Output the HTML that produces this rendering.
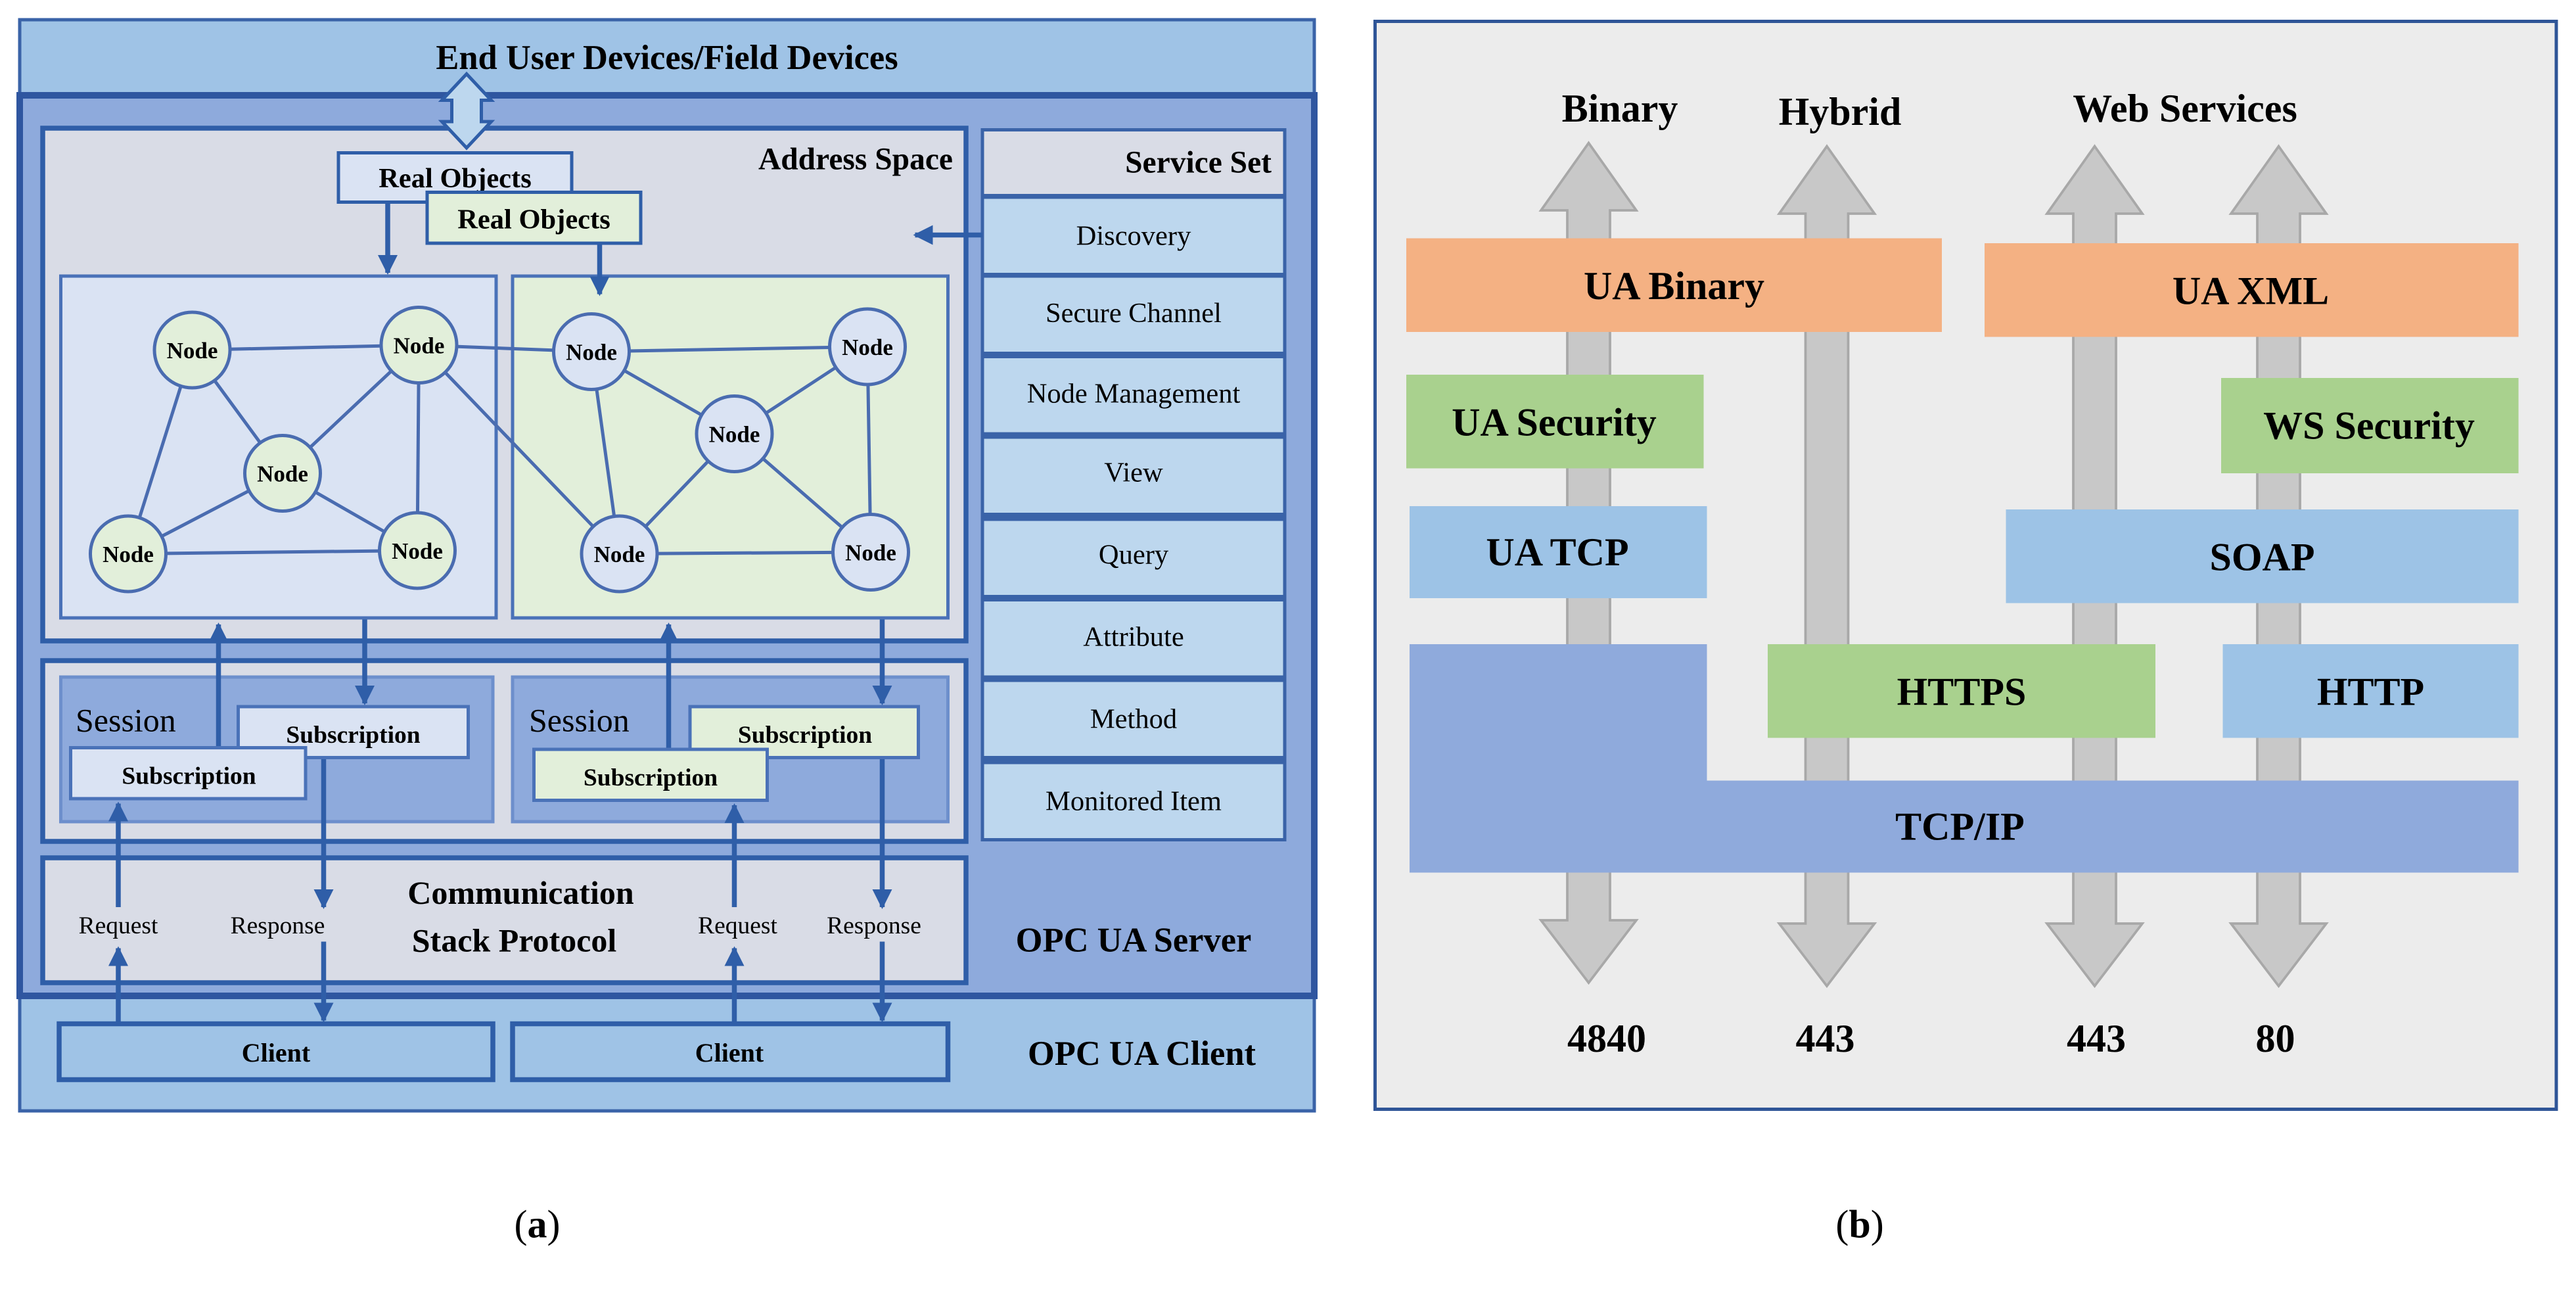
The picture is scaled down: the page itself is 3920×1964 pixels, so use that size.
<!DOCTYPE html>
<html><head><meta charset="utf-8"><style>html,body{margin:0;padding:0;background:#fff}svg{display:block}</style></head>
<body>
<svg width="3920" height="1964" viewBox="0 0 1568 785.6" xmlns="http://www.w3.org/2000/svg" font-family="Liberation Serif, serif">
<defs>
<marker id="ah" viewBox="0 0 10 10" refX="9" refY="5" markerWidth="4" markerHeight="4" orient="auto"><path d="M0,0L10,5L0,10z" fill="#2f5ea8"/></marker>
</defs>
<!-- Panel a -->
<rect x="12" y="12" width="788" height="664" fill="#9fc3e6" stroke="#3a63a8" stroke-width="2"/>
<rect x="12" y="58" width="788" height="548" fill="#8eaadc" stroke="#2f56a0" stroke-width="4"/>
<text x="406" y="42" font-size="21" font-weight="bold" text-anchor="middle">End User Devices/Field Devices</text>
<rect x="26" y="78" width="562" height="312" fill="#d9dce6" stroke="#2f5ea8" stroke-width="3"/>
<text x="580" y="103" font-size="19" font-weight="bold" text-anchor="end">Address Space</text>
<!-- service set -->
<rect x="597" y="78" width="186" height="434" fill="#3a63a8"/>
<rect x="599" y="80" width="182" height="38" fill="#d9dce6"/>
<text x="774" y="105" font-size="19" font-weight="bold" text-anchor="end">Service Set</text>
<g fill="#bdd7ee">
<rect x="599" y="121" width="182" height="45"/><rect x="599" y="169" width="182" height="45"/><rect x="599" y="218" width="182" height="45"/><rect x="599" y="267" width="182" height="45"/><rect x="599" y="317" width="182" height="45"/><rect x="599" y="366" width="182" height="45"/><rect x="599" y="415" width="182" height="45"/><rect x="599" y="465" width="182" height="45"/>
</g>
<g font-size="17" text-anchor="middle">
<text x="690" y="149">Discovery</text><text x="690" y="196">Secure Channel</text><text x="690" y="245">Node Management</text><text x="690" y="293">View</text><text x="690" y="343">Query</text><text x="690" y="393">Attribute</text><text x="690" y="443">Method</text><text x="690" y="493">Monitored Item</text>
</g>
<line x1="598" y1="143" x2="557" y2="143" stroke="#2f5ea8" stroke-width="3" marker-end="url(#ah)"/>
<!-- double arrow -->
<path d="M284,45 L299,61 L293,61 L293,74 L299,74 L284,90 L269,74 L275,74 L275,61 L269,61 Z" fill="#bdd7ee" stroke="#2f5ea8" stroke-width="2"/>
<!-- node boxes -->
<rect x="37" y="168" width="265" height="208" fill="#dae3f3" stroke="#4a72b8" stroke-width="2"/>
<rect x="312" y="168" width="265" height="208" fill="#e2efda" stroke="#4a72b8" stroke-width="2"/>
<rect x="206" y="93" width="142" height="30" fill="#dae3f3" stroke="#2f5ea8" stroke-width="2"/>
<text x="277" y="114" font-size="17" font-weight="bold" text-anchor="middle">Real Objects</text>
<rect x="260" y="117" width="130" height="31" fill="#e2efda" stroke="#2f5ea8" stroke-width="2"/>
<text x="325" y="139" font-size="17" font-weight="bold" text-anchor="middle">Real Objects</text>
<line x1="236" y1="124" x2="236" y2="166" stroke="#2f5ea8" stroke-width="3" marker-end="url(#ah)"/>
<line x1="365" y1="149" x2="365" y2="179" stroke="#2f5ea8" stroke-width="3" marker-end="url(#ah)"/>
<g stroke="#4a6cb0" stroke-width="2">
<line x1="117" y1="213" x2="255" y2="210"/><line x1="117" y1="213" x2="172" y2="288"/><line x1="78" y1="337" x2="117" y2="213"/><line x1="172" y1="288" x2="255" y2="210"/><line x1="255" y1="210" x2="254" y2="335"/><line x1="172" y1="288" x2="78" y2="337"/><line x1="172" y1="288" x2="254" y2="335"/><line x1="78" y1="337" x2="254" y2="335"/><line x1="255" y1="210" x2="377" y2="337"/>
<line x1="255" y1="210" x2="360" y2="214"/><line x1="360" y1="214" x2="528" y2="211"/><line x1="360" y1="214" x2="447" y2="264"/><line x1="528" y1="211" x2="447" y2="264"/><line x1="360" y1="214" x2="377" y2="337"/><line x1="447" y1="264" x2="377" y2="337"/><line x1="447" y1="264" x2="530" y2="336"/><line x1="528" y1="211" x2="530" y2="336"/><line x1="377" y1="337" x2="530" y2="336"/>
</g>
<g stroke="#4a6cb0" stroke-width="2">
<circle cx="117" cy="213" r="23" fill="#e2efda"/><circle cx="255" cy="210" r="23" fill="#e2efda"/><circle cx="172" cy="288" r="23" fill="#e2efda"/><circle cx="78" cy="337" r="23" fill="#e2efda"/><circle cx="254" cy="335" r="23" fill="#e2efda"/>
<circle cx="360" cy="214" r="23" fill="#dae3f3"/><circle cx="528" cy="211" r="23" fill="#dae3f3"/><circle cx="447" cy="264" r="23" fill="#dae3f3"/><circle cx="377" cy="337" r="23" fill="#dae3f3"/><circle cx="530" cy="336" r="23" fill="#dae3f3"/>
</g>
<g font-size="14" font-weight="bold" text-anchor="middle">
<text x="117" y="218">Node</text><text x="255" y="215">Node</text><text x="172" y="293">Node</text><text x="78" y="342">Node</text><text x="254" y="340">Node</text>
<text x="360" y="219">Node</text><text x="528" y="216">Node</text><text x="447" y="269">Node</text><text x="377" y="342">Node</text><text x="530" y="341">Node</text>
</g>
<!-- session row -->
<rect x="26" y="402" width="562" height="110" fill="#d9dce6" stroke="#2f5ea8" stroke-width="3"/>
<rect x="37" y="412" width="263" height="88" fill="#8eaadc" stroke="#6d8fcc" stroke-width="2"/>
<rect x="312" y="412" width="265" height="88" fill="#8eaadc" stroke="#6d8fcc" stroke-width="2"/>
<text x="46" y="445" font-size="20">Session</text>
<text x="322" y="445" font-size="20">Session</text>
<line x1="133" y1="455" x2="133" y2="380" stroke="#2f5ea8" stroke-width="3" marker-end="url(#ah)"/>
<line x1="407" y1="456" x2="407" y2="380" stroke="#2f5ea8" stroke-width="3" marker-end="url(#ah)"/>
<line x1="222" y1="377" x2="222" y2="428" stroke="#2f5ea8" stroke-width="3" marker-end="url(#ah)"/>
<line x1="537" y1="377" x2="537" y2="428" stroke="#2f5ea8" stroke-width="3" marker-end="url(#ah)"/>
<rect x="145" y="430" width="140" height="31" fill="#dae3f3" stroke="#4a72b8" stroke-width="2"/>
<rect x="43" y="455" width="143" height="31" fill="#dae3f3" stroke="#4a72b8" stroke-width="2"/>
<rect x="420" y="430" width="139" height="31" fill="#e2efda" stroke="#4a72b8" stroke-width="2"/>
<rect x="325" y="456" width="142" height="31" fill="#e2efda" stroke="#4a72b8" stroke-width="2"/>
<g font-size="15" font-weight="bold" text-anchor="middle">
<text x="215" y="452">Subscription</text><text x="115" y="477">Subscription</text><text x="490" y="452">Subscription</text><text x="396" y="478">Subscription</text>
</g>
<!-- comm stack -->
<rect x="26" y="522" width="562" height="76" fill="#d9dce6" stroke="#2f5ea8" stroke-width="3"/>
<text x="317" y="550" font-size="20" font-weight="bold" text-anchor="middle">Communication</text>
<text x="313" y="579" font-size="20" font-weight="bold" text-anchor="middle">Stack Protocol</text>
<g font-size="15" text-anchor="middle"><text x="72" y="568">Request</text><text x="169" y="568">Response</text><text x="449" y="568">Request</text><text x="532" y="568">Response</text></g>
<text x="690" y="579" font-size="21" font-weight="bold" text-anchor="middle">OPC UA Server</text>
<text x="695" y="648" font-size="21" font-weight="bold" text-anchor="middle">OPC UA Client</text>
<g stroke="#2f5ea8" stroke-width="3">
<line x1="72" y1="552" x2="72" y2="489" marker-end="url(#ah)"/>
<line x1="197" y1="462" x2="197" y2="552" marker-end="url(#ah)"/>
<line x1="447" y1="552" x2="447" y2="490" marker-end="url(#ah)"/>
<line x1="537" y1="462" x2="537" y2="552" marker-end="url(#ah)"/>
<line x1="72" y1="623" x2="72" y2="577" marker-end="url(#ah)"/>
<line x1="197" y1="573" x2="197" y2="621" marker-end="url(#ah)"/>
<line x1="447" y1="623" x2="447" y2="577" marker-end="url(#ah)"/>
<line x1="537" y1="573" x2="537" y2="621" marker-end="url(#ah)"/>
</g>
<rect x="36" y="623" width="264" height="34" fill="#9fc3e6" stroke="#2f5ea8" stroke-width="3"/>
<rect x="312" y="623" width="265" height="34" fill="#9fc3e6" stroke="#2f5ea8" stroke-width="3"/>
<text x="168" y="646" font-size="16" font-weight="bold" text-anchor="middle">Client</text>
<text x="444" y="646" font-size="16" font-weight="bold" text-anchor="middle">Client</text>

<!-- Panel b -->
<rect x="837" y="13" width="719" height="662" fill="#ececec" stroke="#2f5597" stroke-width="2"/>
<g fill="#c8c8c8" stroke="#a8a8a8" stroke-width="1.5">
<path id="arr" d="M-13,128 L-13,560 L-29,560 L0,598 L29,560 L13,560 L13,128 L29,128 L0,87 L-29,128 Z" transform="translate(967,0)"/>
<use href="#arr" transform="translate(145,2)"/>
<use href="#arr" transform="translate(308,2)"/>
<use href="#arr" transform="translate(420,2)"/>
</g>
<g font-size="24" font-weight="bold" text-anchor="middle">
<text x="986" y="74">Binary</text><text x="1120" y="76">Hybrid</text><text x="1330" y="74">Web Services</text>
<text x="978" y="640">4840</text><text x="1111" y="640">443</text><text x="1276" y="640">443</text><text x="1385" y="640">80</text>
</g>
<rect x="856" y="145" width="326" height="57" fill="#f4b183"/>
<rect x="1208" y="148" width="325" height="57" fill="#f4b183"/>
<rect x="856" y="228" width="181" height="57" fill="#a9d18e"/>
<rect x="1352" y="230" width="181" height="58" fill="#a9d18e"/>
<rect x="858" y="308" width="181" height="56" fill="#9dc3e6"/>
<rect x="1221" y="310" width="312" height="57" fill="#9dc3e6"/>
<rect x="1076" y="392" width="236" height="57" fill="#a9d18e"/>
<rect x="1353" y="392" width="180" height="57" fill="#9dc3e6"/>
<path d="M858,392 L1039,392 L1039,475 L1533,475 L1533,531 L858,531 Z" fill="#8faadc"/>
<g font-size="24" font-weight="bold" text-anchor="middle">
<text x="1019" y="182">UA Binary</text><text x="1370" y="185">UA XML</text>
<text x="946" y="265">UA Security</text><text x="1442" y="267">WS Security</text>
<text x="948" y="344">UA TCP</text><text x="1377" y="347">SOAP</text>
<text x="1194" y="429">HTTPS</text><text x="1443" y="429">HTTP</text>
<text x="1193" y="511">TCP/IP</text>
</g>
<text x="327" y="753" font-size="24" text-anchor="middle">(<tspan font-weight="bold">a</tspan>)</text>
<text x="1132" y="753" font-size="24" text-anchor="middle">(<tspan font-weight="bold">b</tspan>)</text>
</svg>
</body></html>
